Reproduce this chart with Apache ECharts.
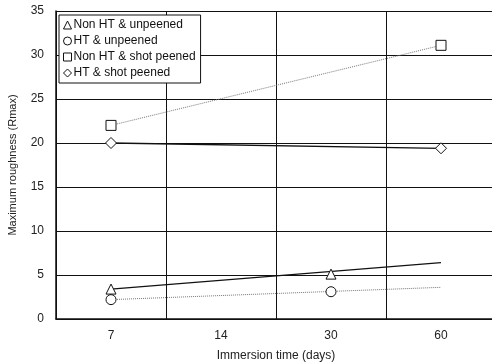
<!DOCTYPE html>
<html>
<head>
<meta charset="utf-8">
<script src="https://cdn.jsdelivr.net/npm/echarts@6/dist/echarts.min.js"></script>
<style>
  html, body { margin: 0; padding: 0; background: #fff; }
  #chart { width: 492px; height: 362px; }
</style>
</head>
<body>
<div id="chart"></div>
<script>
// immersion time categories (days)
var days = ['7', '14', '30', '60'];
var seriesNames = ['Non HT & unpeened', 'HT & unpeened', 'Non HT & shot peened', 'HT & shot peened'];

// measured points
var nonHtUnpeened = [3.4, null, 5.1, null];
var htUnpeened = [2.2, null, 3.1, null];
var nonHtShot = [22.0, null, null, 31.1];
var htShot = [20.0, null, null, 19.4];

// trend lines (end values)
var trendNonHtUnpeened = [3.4, null, null, 6.4];
var trendHtUnpeened = [2.2, null, null, 3.6];
var trendNonHtShot = [22.0, null, null, 31.1];
var trendHtShot = [20.0, null, null, 19.4];

var symbols = ['triangle', 'circle', 'rect', 'diamond'];
var points = [nonHtUnpeened, htUnpeened, nonHtShot, htShot];
var trends = [trendNonHtUnpeened, trendHtUnpeened, trendNonHtShot, trendHtShot];
var trendStyles = [
    {color: '#111', width: 1.3, type: 'solid'},
    {color: '#777', width: 1, type: 'dotted'},
    {color: '#777', width: 1, type: 'dotted'},
    {color: '#111', width: 1.3, type: 'solid'}
];

var font = 'Liberation Sans, Arial, sans-serif';
var chart = echarts.init(document.getElementById('chart'));

var series = [];
trends.forEach(function (d, i) {
    series.push({
        name: seriesNames[i] + ' trend',
        type: 'line',
        data: d,
        connectNulls: true,
        symbol: 'none',
        lineStyle: trendStyles[i],
        silent: true,
        z: 2
    });
});
points.forEach(function (d, i) {
    series.push({
        name: seriesNames[i],
        type: 'scatter',
        data: d,
        symbol: symbols[i],
        symbolSize: i === 3 ? 11 : 10,
        itemStyle: {color: '#fff', borderColor: '#111', borderWidth: 1, opacity: 1},
        z: 5
    });
});

var option = {
    animation: false,
    backgroundColor: '#fff',
    grid: {left: 56, right: -4, top: 11, bottom: 43, outerBoundsMode: 'none'},
    legend: {
        data: seriesNames,
        orient: 'vertical',
        left: 59,
        top: 15,
        padding: [4, 5, 4, 4],
        itemGap: 4,
        itemWidth: 8,
        itemHeight: 8,
        backgroundColor: '#fff',
        borderColor: '#111',
        borderWidth: 1,
        itemStyle: {borderWidth: 1},
        textStyle: {fontFamily: font, fontSize: 12, color: '#111', padding: [0, 0, 0, -3]}
    },
    xAxis: {
        type: 'category',
        data: days,
        boundaryGap: true,
        name: 'Immersion time (days)',
        nameLocation: 'middle',
        nameGap: 31,
        nameTextStyle: {fontFamily: font, fontSize: 12, color: '#222'},
        axisLine: {lineStyle: {color: '#111', width: 1.5}},
        axisTick: {show: false},
        axisLabel: {fontFamily: font, fontSize: 12, color: '#222', margin: 11},
        splitLine: {show: true, interval: 0, lineStyle: {color: '#111', width: 1}}
    },
    yAxis: {
        type: 'value',
        min: 0,
        max: 35,
        interval: 5,
        name: 'Maximum roughness (Rmax)',
        nameLocation: 'middle',
        nameGap: 38,
        nameTextStyle: {fontFamily: font, fontSize: 11, color: '#222'},
        axisLine: {show: true, lineStyle: {color: '#111', width: 1.5}},
        axisTick: {show: false},
        axisLabel: {fontFamily: font, fontSize: 12, color: '#222', margin: 12},
        splitLine: {show: true, lineStyle: {color: '#111', width: 1}}
    },
    series: series
};

chart.setOption(option);
</script>
</body>
</html>
